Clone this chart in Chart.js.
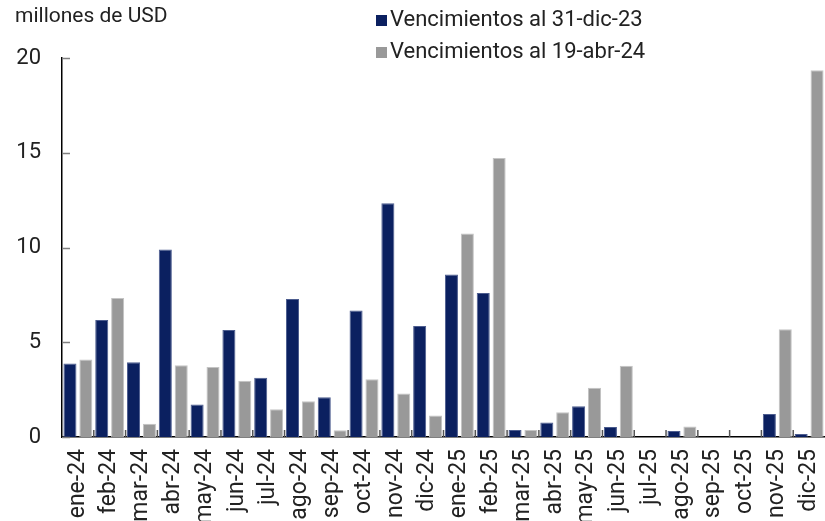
<!DOCTYPE html>
<html>
<head>
<meta charset="utf-8">
<script src="https://cdn.jsdelivr.net/npm/chart.js@4.4.1/dist/chart.umd.min.js"></script>
<style>
  html, body { margin: 0; padding: 0; background: #fff; overflow: hidden; }
  #wrap { position: relative; width: 825px; height: 521px; font-family: Roboto, "Noto Sans", sans-serif; color: #222; }
  canvas { position: absolute; left: 0; top: 0; }
  #unit { position: absolute; left: 15px; top: 3px; font-size: 21px; }
  #legend { position: absolute; left: 376px; top: 3px; font-size: 22px; }
  .item { display: flex; align-items: center; height: 32px; line-height: 32px; }
  .sw { width: 11px; height: 11px; margin-right: 3px; margin-top: 2px; }
</style>
</head>
<body>
<div id="wrap">
  <canvas id="c" width="825" height="521"></canvas>
  <div id="unit">millones de USD</div>
  <div id="legend"></div>
</div>
<script>
const categories = ['ene-24','feb-24','mar-24','abr-24','may-24','jun-24','jul-24','ago-24','sep-24','oct-24','nov-24','dic-24',
                    'ene-25','feb-25','mar-25','abr-25','may-25','jun-25','jul-25','ago-25','sep-25','oct-25','nov-25','dic-25'];
const seriesNames = ['Vencimientos al 31-dic-23', 'Vencimientos al 19-abr-24'];
const venc31dic23 = [3.88, 6.18, 3.95, 9.90, 1.72, 5.65, 3.13, 7.28, 2.10, 6.68, 12.34, 5.86,
                     8.58, 7.60, 0.37, 0.77, 1.62, 0.53, 0, 0.32, 0, 0, 1.21, 0.16];
const venc19abr24 = [4.09, 7.34, 0.70, 3.79, 3.70, 2.97, 1.46, 1.89, 0.35, 3.05, 2.30, 1.13,
                     10.74, 14.72, 0.37, 1.30, 2.60, 3.76, 0, 0.56, 0, 0, 5.68, 19.35];
const yTicks = [0, 5, 10, 15, 20];

const colors = ['#0b2060', '#999999'];
const borders = ['#4d5d8f', '#c4c4c4'];

const innerTicks = {
  id: 'innerTicks',
  afterDatasetsDraw(chart) {
    const ctx = chart.ctx;
    const x = chart.scales.x, y = chart.scales.y;
    ctx.save();
    ctx.strokeStyle = '#7f7f7f';
    ctx.lineWidth = 1.5;
    yTicks.forEach(v => {
      const py = Math.round(y.getPixelForValue(v)) + 0.5;
      ctx.beginPath();
      ctx.moveTo(x.left, py);
      ctx.lineTo(x.left + 8, py);
      ctx.stroke();
    });
    ctx.strokeStyle = '#555';
    ctx.lineWidth = 1.5;
    const n = categories.length;
    for (let i = 1; i < n; i++) {
      const px = (x.getPixelForTick(i - 1) + x.getPixelForTick(i)) / 2;
      ctx.beginPath();
      ctx.moveTo(px, y.bottom);
      ctx.lineTo(px, y.bottom - 7);
      ctx.stroke();
    }
    ctx.restore();
  }
};

const chart = new Chart(document.getElementById('c'), {
  type: 'bar',
  data: {
    labels: categories,
    datasets: [
      { label: seriesNames[0], data: venc31dic23, backgroundColor: colors[0], borderColor: borders[0], borderWidth: 1 },
      { label: seriesNames[1], data: venc19abr24, backgroundColor: colors[1], borderColor: borders[1], borderWidth: 1 }
    ]
  },
  options: {
    responsive: false,
    animation: false,
    events: [],
    layout: { padding: { top: 58, left: 0, right: 0, bottom: 0 } },
    plugins: { legend: { display: false }, tooltip: { enabled: false }, title: { display: false } },
    datasets: { bar: { categoryPercentage: 1.0, barPercentage: 0.82 } },
    scales: {
      x: {
        grid: { display: false, drawTicks: false },
        border: { display: true, color: '#000', width: 1.5 },
        ticks: {
          autoSkip: false, maxRotation: 90, minRotation: 90, padding: 12,
          color: '#222', font: { family: 'Roboto', size: 23 }
        },
        afterFit(scale) { scale.height = 84; scale.paddingLeft = 0; scale.paddingRight = 0; }
      },
      y: {
        min: 0, max: 20,
        grid: { display: false, drawTicks: false },
        border: { display: true, color: '#000', width: 1.5 },
        ticks: {
          stepSize: 5, padding: 21, color: '#222', font: { family: 'Roboto', size: 22 }
        },
        afterBuildTicks(scale) { scale.ticks = yTicks.map(v => ({ value: v })); },
        afterFit(scale) { scale.width = 62; scale.paddingTop = 0; scale.paddingBottom = 0; }
      }
    }
  },
  plugins: [innerTicks]
});

const legend = document.getElementById('legend');
chart.data.datasets.forEach(ds => {
  const it = document.createElement('div');
  it.className = 'item';
  const sw = document.createElement('span');
  sw.className = 'sw';
  sw.style.background = ds.backgroundColor;
  const tx = document.createElement('span');
  tx.textContent = ds.label;
  it.appendChild(sw); it.appendChild(tx);
  legend.appendChild(it);
});
</script>
</body>
</html>
